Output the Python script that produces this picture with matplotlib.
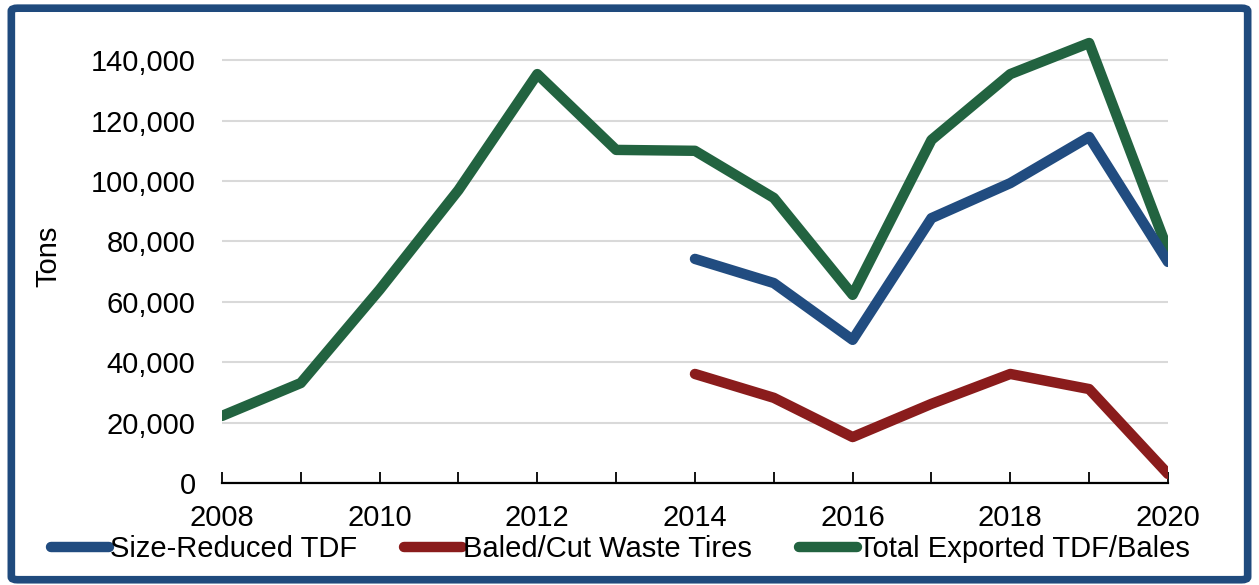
import matplotlib
matplotlib.use("Agg")
import matplotlib.pyplot as plt
from matplotlib.patches import FancyBboxPatch
from matplotlib.ticker import FuncFormatter
import numpy as np

plt.rcParams['font.family'] = ['Liberation Sans', 'DejaVu Sans']

years = [2008, 2009, 2010, 2011, 2012, 2013, 2014, 2015, 2016, 2017, 2018, 2019, 2020]
total_exported = [22200, 33100, 64000, 97000, 135400, 110300, 110000, 94400, 62300, 113600, 135400, 145700, 77000]
size_years = [2014, 2015, 2016, 2017, 2018, 2019, 2020]
size_reduced = [74200, 66200, 47400, 87700, 99300, 114600, 73200]
baled_cut = [36100, 28200, 15200, 26200, 36100, 31100, 3000]

labels = ['Size-Reduced TDF', 'Baled/Cut Waste Tires', 'Total Exported TDF/Bales']
colors = ['#214C80', '#8A1C1C', '#226340']

fig = plt.figure(figsize=(12.59, 5.85), dpi=100)
ax = fig.add_axes([0.1763, 0.1744, 0.9277 - 0.1763, 0.7743])

lw = 7.5
style = dict(lw=lw, solid_capstyle='round', solid_joinstyle='round')
l1, = ax.plot(size_years, size_reduced, color=colors[0], zorder=3, **style)
l2, = ax.plot(size_years, baled_cut, color=colors[1], zorder=3, **style)
l3, = ax.plot(years, total_exported, color=colors[2], zorder=2, **style)

ax.set_xlim(2008, 2020)
ax.set_ylim(0, 150000)
ax.yaxis.set_major_locator(plt.FixedLocator(np.arange(0, 140001, 20000)))
ax.yaxis.set_major_formatter(FuncFormatter(lambda v, p: f"{int(v):,}"))
ax.set_xticks(years)
ax.set_xticklabels([str(y) if y % 2 == 0 else '' for y in years])

ax.grid(axis='y', color='#D9D9D9', lw=1.5)
ax.set_axisbelow(True)
for s in ['top', 'right', 'left']:
    ax.spines[s].set_visible(False)
ax.spines['bottom'].set_color('black')
ax.spines['bottom'].set_linewidth(1.6)
ax.tick_params(axis='x', direction='in', length=8, width=1.3, labelsize=21, pad=15)
ax.tick_params(axis='y', length=0, labelsize=21, pad=19)
ax.set_ylabel('Tons', fontsize=21, labelpad=20)

leg = fig.legend([l1, l2, l3], labels, loc='center left', bbox_to_anchor=(0.029, 0.062),
                 ncol=3, frameon=False, fontsize=21, handlelength=2.0, handletextpad=0.03,
                 columnspacing=1.6, borderpad=0)

border = FancyBboxPatch((0.009, 0.009), 0.982, 0.977, boxstyle='round,pad=0,rounding_size=0.005',
                        transform=fig.transFigure, fill=False, edgecolor='#1F4A7D', lw=5.5, zorder=10)
fig.patches.append(border)

fig.savefig('out.png', dpi=100)
